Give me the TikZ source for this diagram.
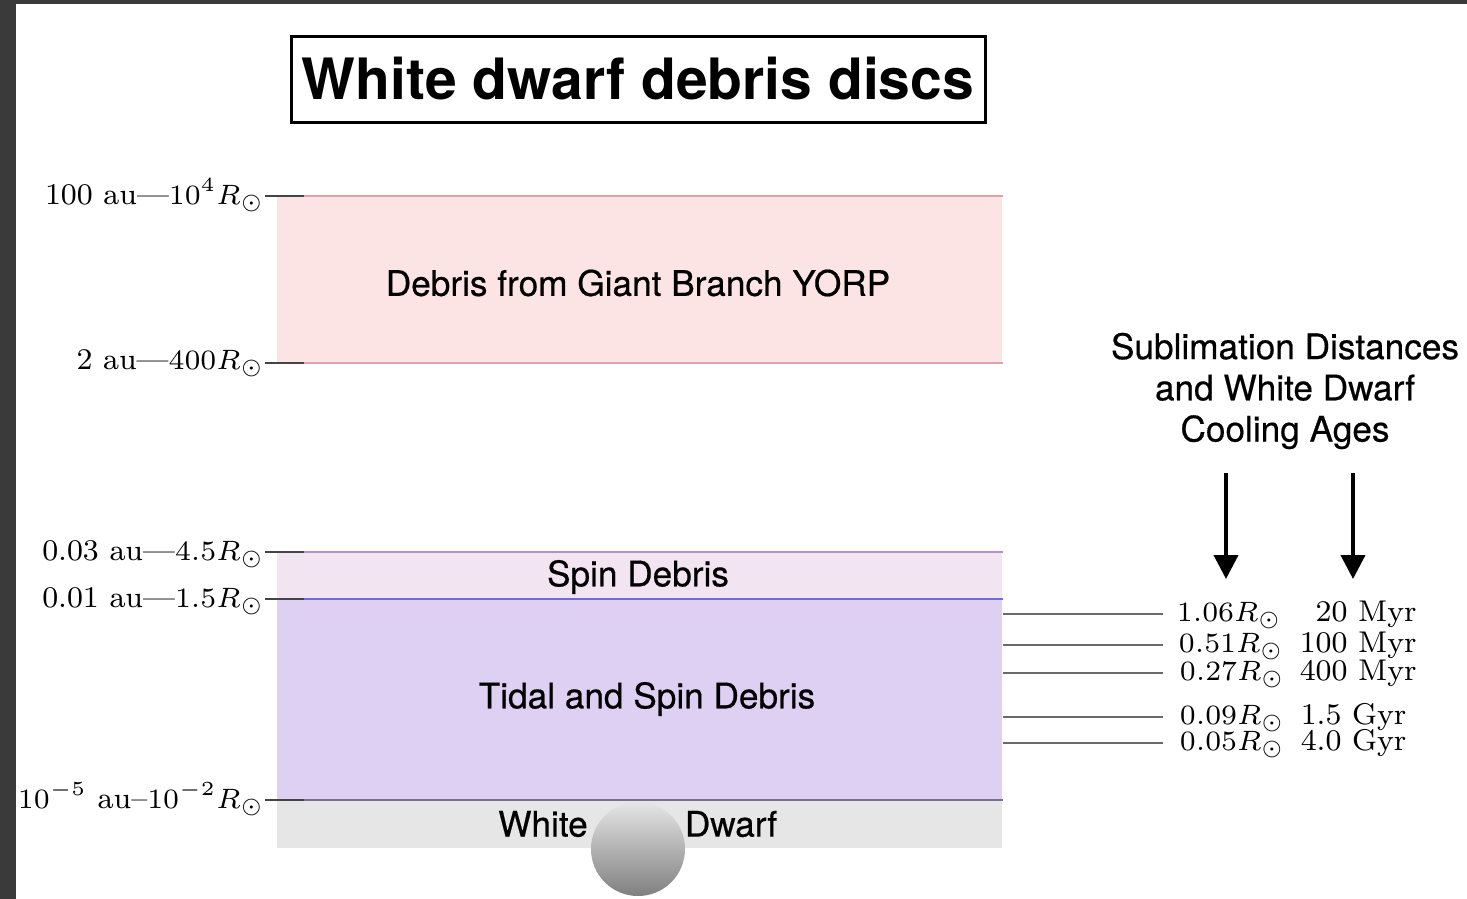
\documentclass[tikz,border=0pt]{standalone}
\usepackage{fontspec}
\newfontfamily\heros{TeX Gyre Heros}
\newfontfamily\herosmed[FakeBold=0.5]{TeX Gyre Heros}
\usetikzlibrary{arrows.meta}

\definecolor{framegray}{HTML}{3A3A3A}
\definecolor{yorpfill}{HTML}{FCE4E4}
\definecolor{yorpline}{HTML}{E3A0A6}
\definecolor{spinfill}{HTML}{F3E4F2}
\definecolor{spinline}{HTML}{B890C8}
\definecolor{tidalfill}{HTML}{DDD0F2}
\definecolor{tidalline}{HTML}{6E6AD8}
\definecolor{wdfill}{HTML}{E6E6E6}
\definecolor{wdline}{HTML}{7A6E8E}
\definecolor{tickgray}{HTML}{444444}
\definecolor{sublgray}{HTML}{6A6A6A}

% one coordinate unit is a quarter point
\newcommand\bandfont{\herosmed\fontsize{8.8}{10.3}\selectfont}
\newcommand\titlefont{\heros\bfseries\fontsize{14.25}{16.5}\selectfont}
\newcommand\scalefont{\fontsize{7.5}{9}\selectfont}

\begin{document}
\begin{tikzpicture}[x=0.25pt,y=-0.25pt,
  band/.style={draw=none,rectangle,minimum width=181.25pt,inner sep=0pt},
  bandlabel/.style={font=\bandfont,inner sep=0pt},
  scalelabel/.style={font=\scalefont,inner sep=0pt,anchor=base east},
  sublabel/.style={font=\scalefont,inner sep=0pt,anchor=base west},
  tickline/.style={draw=tickgray,line width=0.5pt},
  edgeline/.style={line width=0.375pt},
  subline/.style={draw=sublgray,line width=0.5pt},
  downarrow/.style={line width=1pt,-{Triangle[length=6pt,width=6pt]}}]

% page frame
\fill[framegray] (0,0) rectangle (1467,899);
\fill[white] (16,4) rectangle (1467,899);
\useasboundingbox (0,0) rectangle (1467,899);

% title
\node[draw=black,line width=0.75pt,minimum width=173.5pt,minimum height=21.5pt,
      inner sep=0pt,font=\titlefont] (title) at (638,79) {White dwarf debris discs};

% bands
\node[band,fill=yorpfill,minimum height=41.25pt] (yorp) at (639.5,279.5) {};
\node[band,fill=spinfill,minimum height=11.75pt] (spin) at (639.5,576.5) {};
\node[band,fill=tidalfill,minimum height=50.25pt] (tidal) at (639.5,700.5) {};
\node[band,fill=wdfill,minimum height=11.75pt] (wd) at (639.5,824.5) {};

\draw[edgeline,yorpline] (yorp.north west) -- (yorp.north east);
\draw[edgeline,yorpline] (yorp.south west) -- (yorp.south east);
\draw[edgeline,spinline] (spin.north west) -- (spin.north east);
\draw[edgeline,tidalline] (tidal.north west) -- (tidal.north east);
\draw[edgeline,wdline] (wd.north west) -- (wd.north east);

% band labels
\node[bandlabel] (yorptext) at (638,283) {Debris from Giant Branch YORP};
\node[bandlabel] (spintext) at (638,577) {Spin Debris};
\node[bandlabel] (tidaltext) at (647,699) {Tidal and Spin Debris};

% the white dwarf
\node[circle,minimum size=23.5pt,inner sep=0pt,top color=black!10,bottom color=black!50] (star) at (638,849) {};
\node[bandlabel] (white) at (543,824) {White};
\node[bandlabel] (dwarf) at (731,824) {Dwarf};

% distance scale on the left
\node[scalelabel] (l1) at (265,204) {100 au---$10^4R_\odot$};
\node[scalelabel] (l2) at (265,369) {2 au---$400R_\odot$};
\node[scalelabel] (l3) at (265,560) {0.03 au---$4.5R_\odot$};
\node[scalelabel] (l4) at (265,607) {0.01 au---$1.5R_\odot$};
\node[scalelabel] (l5) at (265,808) {$10^{-5}$ au--$10^{-2}R_\odot$};

\draw[tickline] (l1.east |- yorp.north) -- ([xshift=7pt]yorp.north west);
\draw[tickline] (l2.east |- yorp.south) -- ([xshift=7pt]yorp.south west);
\draw[tickline] (l3.east |- spin.north) -- ([xshift=7pt]spin.north west);
\draw[tickline] (l4.east |- tidal.north) -- ([xshift=7pt]tidal.north west);
\draw[tickline] (l5.east |- wd.north) -- ([xshift=7pt]wd.north west);

% sublimation distances and cooling ages
\node[font=\bandfont,align=center,inner sep=0pt,anchor=north] (subhead) at (1285,332)
  {Sublimation Distances\\and White Dwarf\\Cooling Ages};
\coordinate (a1s) at (1226,473);
\coordinate (a1e) at (1226,579);
\coordinate (a2s) at (1353,473);
\coordinate (a2e) at (1353,579);
\draw[downarrow] (a1s) -- (a1e);
\draw[downarrow] (a2s) -- (a2e);

\coordinate (s1) at (1163,614);
\coordinate (s2) at (1163,645);
\coordinate (s3) at (1163,673);
\coordinate (s4) at (1163,717);
\coordinate (s5) at (1163,743);
\draw[subline] (tidal.east |- s1) -- (s1);
\draw[subline] (tidal.east |- s2) -- (s2);
\draw[subline] (tidal.east |- s3) -- (s3);
\draw[subline] (tidal.east |- s4) -- (s4);
\draw[subline] (tidal.east |- s5) -- (s5);

\node[sublabel] (d1) at (1176,621) {$1.06R_\odot$};
\node[sublabel] (d2) at (1178,652) {$0.51R_\odot$};
\node[sublabel] (d3) at (1179,680) {$0.27R_\odot$};
\node[sublabel] (d4) at (1179,724) {$0.09R_\odot$};
\node[sublabel] (d5) at (1179,750) {$0.05R_\odot$};

\node[sublabel] (t1) at (1299,621) {\phantom{0}20 Myr};
\node[sublabel] (t2) at (1299,652) {100 Myr};
\node[sublabel] (t3) at (1299,680) {400 Myr};
\node[sublabel] (t4) at (1300,724) {1.5 Gyr};
\node[sublabel] (t5) at (1300,750) {4.0 Gyr};
\end{tikzpicture}
\end{document}
